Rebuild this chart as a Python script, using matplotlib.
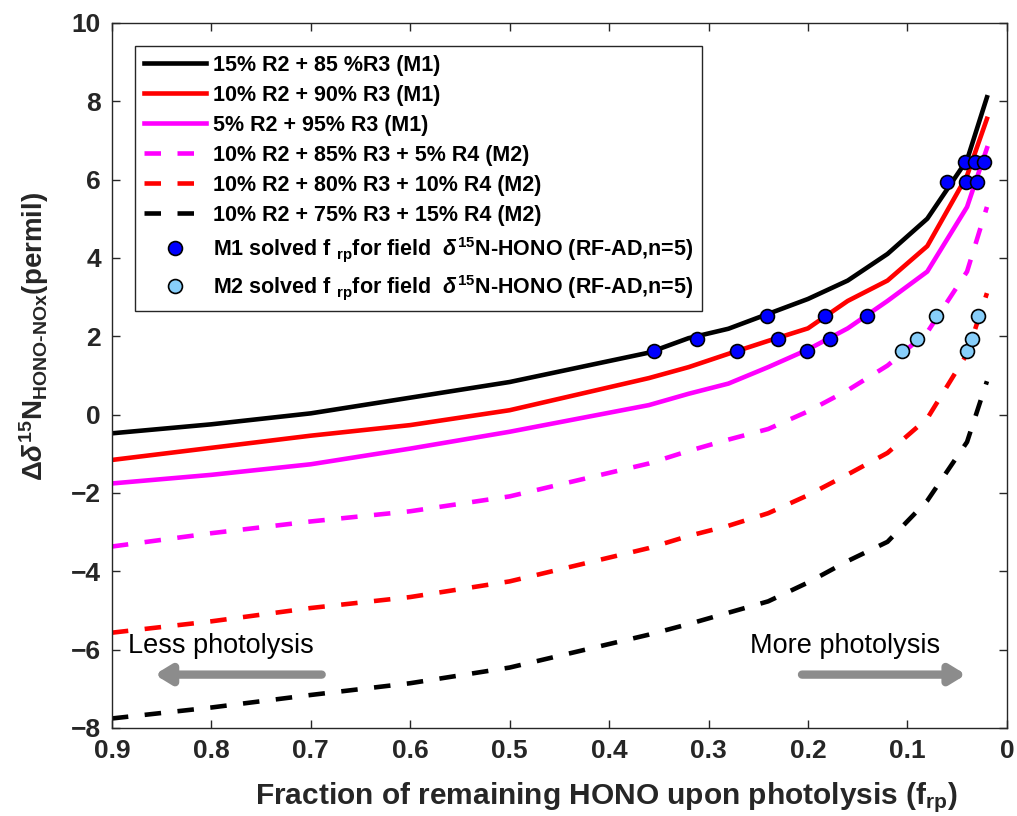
import matplotlib
matplotlib.use("Agg")
import matplotlib.pyplot as plt

plt.rcParams['font.family'] = ['Liberation Sans', 'DejaVu Sans']
plt.rcParams['font.weight'] = 'bold'
plt.rcParams['mathtext.fontset'] = 'custom'
plt.rcParams['mathtext.rm'] = 'Liberation Sans:bold'
plt.rcParams['mathtext.it'] = 'Liberation Sans:bold:italic'
plt.rcParams['mathtext.bf'] = 'Liberation Sans:bold'

# ---------------- data ----------------
f_model = [0.9, 0.8, 0.7, 0.6, 0.5, 0.36, 0.32, 0.28, 0.24, 0.2, 0.16, 0.12, 0.08, 0.04, 0.02]
m1_15 = [-0.48, -0.25, 0.03, 0.43, 0.83, 1.58, 1.95, 2.19, 2.57, 2.95, 3.42, 4.1, 5.0, 6.5, 8.1]
m1_10 = [-1.16, -0.85, -0.54, -0.27, 0.11, 0.93, 1.21, 1.55, 1.88, 2.2, 2.9, 3.42, 4.3, 6.1, 7.55]
m1_5 = [-1.76, -1.54, -1.27, -0.87, -0.44, 0.24, 0.53, 0.79, 1.21, 1.66, 2.2, 2.9, 3.65, 5.3, 6.8]
m2_5 = [-3.37, -3.03, -2.73, -2.47, -2.09, -1.25, -0.93, -0.64, -0.37, 0.08, 0.62, 1.25, 2.1, 3.65, 5.3]
m2_10 = [-5.57, -5.28, -4.94, -4.66, -4.26, -3.41, -3.1, -2.84, -2.52, -2.06, -1.53, -0.98, -0.1, 1.55, 3.1]
m2_15 = [-7.76, -7.48, -7.16, -6.86, -6.46, -5.62, -5.35, -5.06, -4.77, -4.29, -3.74, -3.25, -2.2, -0.7, 0.85]

m1_f = [0.355, 0.312, 0.241, 0.271, 0.230, 0.183, 0.201, 0.178, 0.141,
        0.060, 0.041, 0.030, 0.042, 0.032, 0.023]
m1_d = [1.62, 1.92, 2.52, 1.62, 1.92, 2.52, 1.62, 1.92, 2.52,
        5.94, 5.94, 5.94, 6.44, 6.44, 6.44]
m2_f = [0.105, 0.090, 0.071, 0.040, 0.035, 0.029]
m2_d = [1.62, 1.92, 2.52, 1.62, 1.92, 2.52]

labels = ['15% R2 + 85 %R3 (M1)',
          '10% R2 + 90% R3 (M1)',
          '5% R2 + 95% R3 (M1)',
          '10% R2 + 85% R3 + 5% R4 (M2)',
          '10% R2 + 80% R3 + 10% R4 (M2)',
          '10% R2 + 75% R3 + 15% R4 (M2)',
          r'M1 solved f $_{\mathrm{rp}}$for field  $\delta^{15}$N-HONO (RF-AD,n=5)',
          r'M2 solved f $_{\mathrm{rp}}$for field  $\delta^{15}$N-HONO (RF-AD,n=5)']

xticks = [0.9, 0.8, 0.7, 0.6, 0.5, 0.4, 0.3, 0.2, 0.1, 0]
xticklabels = ['0.9', '0.8', '0.7', '0.6', '0.5', '0.4', '0.3', '0.2', '0.1', '0']
yticks = [-8, -6, -4, -2, 0, 2, 4, 6, 8, 10]

# ---------------- figure ----------------
fig = plt.figure(figsize=(10.17, 8.16), dpi=100)
ax = fig.add_axes([0.110, 0.108, 0.880, 0.864])

lw = 3.3
dash = (3.6, 3.6)
ax.plot(f_model, m1_15, color='black', lw=lw, label=labels[0])
ax.plot(f_model, m1_10, color='#ff0000', lw=lw, label=labels[1])
ax.plot(f_model, m1_5, color='#ff00ff', lw=lw, label=labels[2])
ax.plot(f_model, m2_5, color='#ff00ff', lw=lw, dashes=dash, label=labels[3])
ax.plot(f_model, m2_10, color='#ff0000', lw=lw, dashes=dash, label=labels[4])
ax.plot(f_model, m2_15, color='black', lw=lw, dashes=dash, label=labels[5])
ax.plot(m1_f, m1_d, 'o', ms=10, mfc='#0000ff', mec='black', mew=1.2, label=labels[6])
ax.plot(m2_f, m2_d, 'o', ms=10, mfc='#87cefa', mec='black', mew=1.2, label=labels[7])

ax.set_xlim(0.9, 0)
ax.set_ylim(-8, 10)
ax.set_xticks(xticks)
ax.set_xticklabels(xticklabels)
ax.set_yticks(yticks)
ax.tick_params(direction='in', length=6, width=1, top=True, right=True,
               labelsize=19, colors='#262626', pad=8)
for lab in ax.get_xticklabels() + ax.get_yticklabels():
    lab.set_fontweight('bold')
for s in ax.spines.values():
    s.set_color('#262626')
    s.set_linewidth(1.0)

ax.set_xlabel(r'Fraction of remaining HONO upon photolysis (f$_{\mathrm{rp}}$)',
              fontsize=21.5, fontweight='bold', color='#262626')
ax.xaxis.set_label_coords(0.553, -0.074)
ax.set_ylabel(r'$\Delta\delta^{15}$N$_{\mathrm{HONO\text{-}NOx}}$(permil)',
              fontsize=20, fontweight='bold', color='#262626')
ax.yaxis.set_label_coords(-0.068, 0.555)

leg = ax.legend(loc='upper left', bbox_to_anchor=(0.026, 0.967), fontsize=15.5,
                frameon=True, fancybox=False, edgecolor='#262626', framealpha=1,
                handlelength=2.9, handletextpad=0.3, labelspacing=0.42,
                borderpad=0.4, borderaxespad=0)
leg.get_frame().set_linewidth(1.0)

# annotations
arrow_kw = dict(arrowstyle='-|>,head_length=0.9,head_width=0.55', color='#8c8c8c',
                lw=6, shrinkA=0, shrinkB=0)
ax.text(0.79, -5.9, 'Less photolysis', fontsize=19.5, fontweight='normal',
        ha='center', va='center', color='black')
ax.annotate('', xy=(0.857, -6.64), xytext=(0.689, -6.64), arrowprops=arrow_kw)
ax.text(0.163, -5.9, 'More photolysis', fontsize=19.5, fontweight='normal',
        ha='center', va='center', color='black')
ax.annotate('', xy=(0.041, -6.64), xytext=(0.206, -6.64), arrowprops=arrow_kw)

fig.savefig('out.png', dpi=100, facecolor='white')
